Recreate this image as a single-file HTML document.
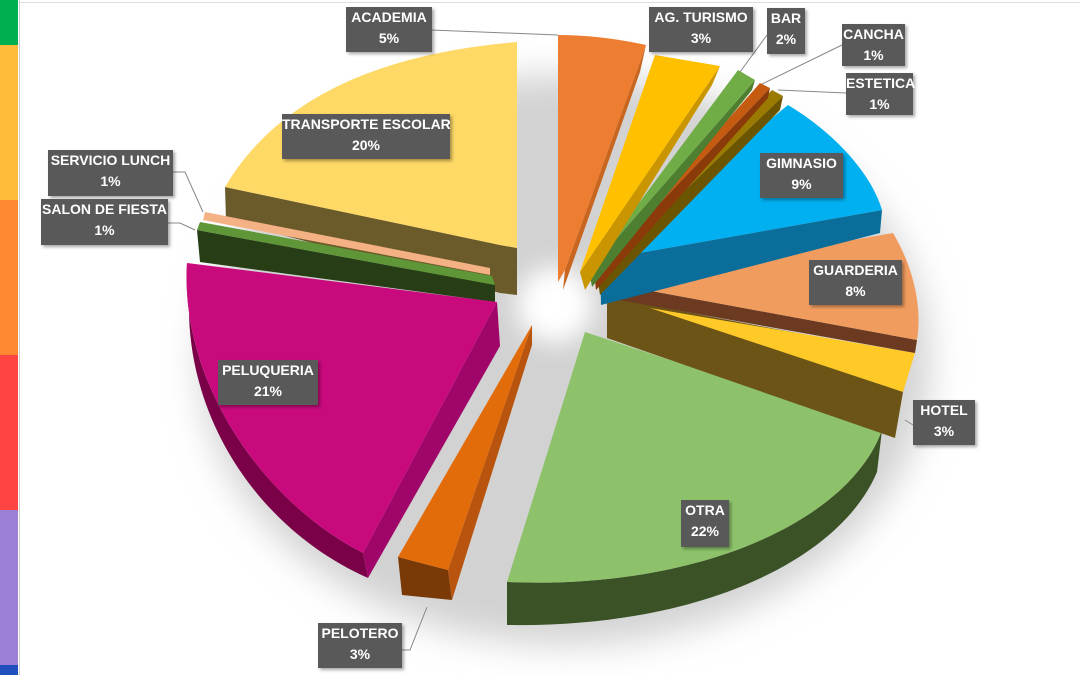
<!DOCTYPE html>
<html><head><meta charset="utf-8"><style>
html,body{margin:0;padding:0;background:#fff;}
body{width:1080px;height:675px;overflow:hidden;position:relative;font-family:"Liberation Sans",sans-serif;}
.strip{position:absolute;left:0;width:18px;}
.lbl{position:absolute;background:#595959;color:#fff;font-weight:bold;font-size:14px;line-height:21px;text-align:center;box-shadow:2px 2px 3px rgba(0,0,0,0.35);white-space:nowrap;}
</style></head><body>
<div class="strip" style="top:0;height:45px;background:#00b050"></div>
<div class="strip" style="top:45px;height:155px;background:#ffbb3c"></div>
<div class="strip" style="top:200px;height:155px;background:#ff8833"></div>
<div class="strip" style="top:355px;height:155px;background:#ff4444"></div>
<div class="strip" style="top:510px;height:155px;background:#9b7fd4"></div>
<div class="strip" style="top:665px;height:10px;background:#1f4fbf"></div>
<div style="position:absolute;left:19px;top:0;width:1px;height:675px;background:#ccc"></div>
<div style="position:absolute;left:20px;top:2px;width:1060px;height:1px;background:#ddd"></div>
<svg width="1080" height="675" style="position:absolute;left:0;top:0">
<defs>
<filter id="b1" x="-30%" y="-30%" width="160%" height="160%"><feGaussianBlur stdDeviation="18"/></filter>
<filter id="b2" x="-50%" y="-50%" width="200%" height="200%"><feGaussianBlur stdDeviation="12"/></filter>
</defs>
<ellipse cx="565" cy="360" rx="365" ry="285" fill="#d2d2d2" filter="url(#b1)"/>
<circle cx="555" cy="305" r="38" fill="#fff" filter="url(#b2)"/>
<g stroke="#888" stroke-width="1" fill="none">
<path d="M431,30 L558,35"/>
<path d="M767,35 L740,72"/>
<path d="M842,45 L762,84"/>
<path d="M846,93 L778,90"/>
<path d="M173,172 L185,172 L203,212"/>
<path d="M168,223 L180,223 L195,230"/>
<path d="M913,425 L905,420"/>
<path d="M402,650 L410,650 L427,607"/>
</g>
<path d="M225,187 L500,245 L517,248 L517,295 L500,293 L226,220 Z" fill="#6b5a2a"/>
<path d="M517,42 Q300,60 225,187 L500,245 L517,248 Z" fill="#fed966"/>
<path d="M205,212 L490,268 L490,275 L203,220 Z" fill="#f4b183"/>
<path d="M197,230 L495,285 L495,302 L200,262 Z" fill="#263d16"/>
<path d="M200,222 L492,276 L495,285 L197,230 Z" fill="#5e9638"/>
<path d="M497,302 L500,346 L368,578 L363,553 Z" fill="#a0066a"/>
<path d="M187,263 C180,380 260,500 363,553 L368,578 C260,530 186,420 189,300 Z" fill="#7a0048"/>
<path d="M187,263 L497,302 L363,553 C260,500 180,380 187,263 Z" fill="#c80a7c"/>
<path d="M398,557 L448,570 L452,600 L402,595 Z" fill="#7a3a08"/>
<path d="M532,325 L532,345 L452,600 L448,570 Z" fill="#b8540e"/>
<path d="M532,325 L398,557 L448,570 Z" fill="#e36c0a"/>
<path d="M507,582 C700,590 850,520 882,430 L877,472 C840,560 700,628 507,625 Z" fill="#3b5227"/>
<path d="M585,332 L882,430 C850,520 700,590 507,582 Z" fill="#8dc26a"/>
<path d="M607,297 L913,355 L903,392 L895,438 L607,338 Z" fill="#6b5415"/>
<path d="M650,308 L915,353 L903,392 Z" fill="#ffca28"/>
<path d="M608,283 L917,340 L915,353 L608,298 Z" fill="#6b3a20"/>
<path d="M608,283 L893,233 C915,270 922,310 917,340 Z" fill="#f19c5f"/>
<path d="M600,260 L882,210 L880,233 L601,305 Z" fill="#0b6e9a"/>
<path d="M600,260 L788,105 C830,130 870,170 882,210 Z" fill="#00b0f0"/>
<path d="M783,96 L780,110 L600,295 L597,275 Z" fill="#6b5500"/>
<path d="M772,90 L783,96 L597,275 Z" fill="#9a7a00"/>
<path d="M770,88 L768,98 L596,290 L594,272 Z" fill="#8b3a0a"/>
<path d="M760,83 L770,88 L594,272 Z" fill="#c55a11"/>
<path d="M755,80 L752,90 L592,287 L589,270 Z" fill="#4e7f30"/>
<path d="M738,70 L755,80 L589,270 Z" fill="#70ad47"/>
<path d="M720,66 L712,85 L585,290 L580,272 Z" fill="#c99500"/>
<path d="M655,55 L720,66 L580,272 Z" fill="#ffc000"/>
<path d="M646,45 L640,72 L563,290 L565,270 Z" fill="#c8651f"/>
<path d="M558,35 Q600,35 646,45 L565,270 L558,282 Z" fill="#ed7d31"/>
</svg>
<div class="lbl" style="left:346px;top:7px;width:86px;height:45px;">ACADEMIA<br>5%</div>
<div class="lbl" style="left:282px;top:114px;width:168px;height:45px;">TRANSPORTE ESCOLAR<br>20%</div>
<div class="lbl" style="left:48px;top:150px;width:125px;height:46px;">SERVICIO LUNCH<br>1%</div>
<div class="lbl" style="left:41px;top:199px;width:127px;height:46px;">SALON DE FIESTA<br>1%</div>
<div class="lbl" style="left:649px;top:7px;width:104px;height:45px;">AG. TURISMO<br>3%</div>
<div class="lbl" style="left:767px;top:8px;width:38px;height:46px;">BAR<br>2%</div>
<div class="lbl" style="left:842px;top:24px;width:63px;height:42px;">CANCHA<br>1%</div>
<div class="lbl" style="left:846px;top:73px;width:67px;height:42px;">ESTETICA<br>1%</div>
<div class="lbl" style="left:760px;top:153px;width:83px;height:45px;">GIMNASIO<br>9%</div>
<div class="lbl" style="left:809px;top:260px;width:93px;height:45px;">GUARDERIA<br>8%</div>
<div class="lbl" style="left:913px;top:400px;width:62px;height:45px;">HOTEL<br>3%</div>
<div class="lbl" style="left:681px;top:500px;width:48px;height:47px;">OTRA<br>22%</div>
<div class="lbl" style="left:218px;top:360px;width:100px;height:45px;">PELUQUERIA<br>21%</div>
<div class="lbl" style="left:318px;top:623px;width:84px;height:45px;">PELOTERO<br>3%</div>
</body></html>
